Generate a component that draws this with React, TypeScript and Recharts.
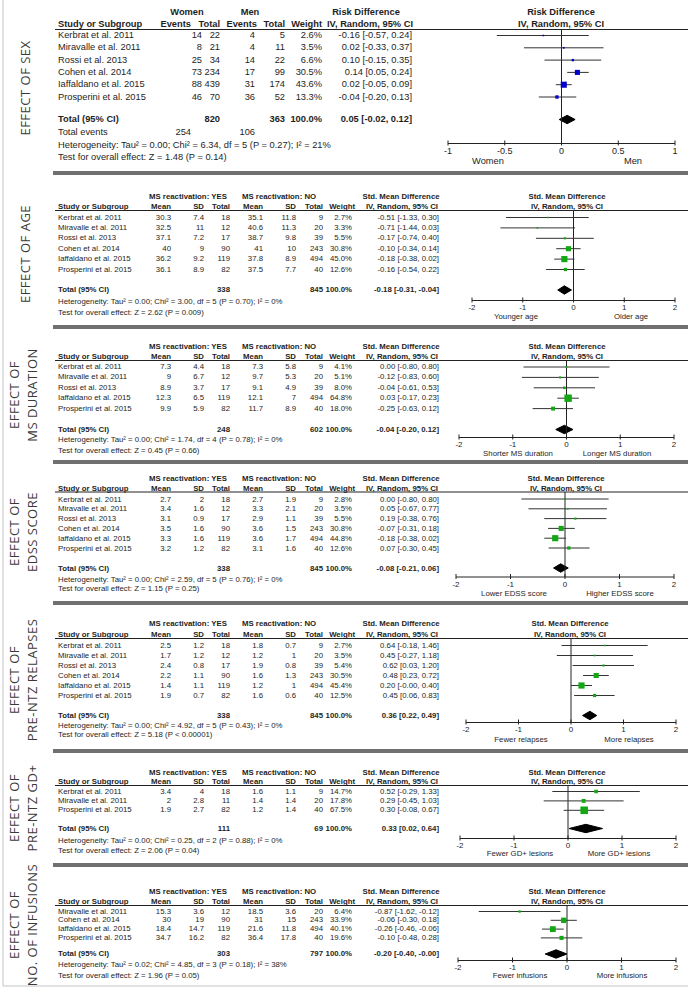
import { Area, ComposedChart, ErrorBar, ReferenceLine, Scatter, XAxis, YAxis } from "recharts"

// ---- data ----

const sexRows = [
  ["Kerbrat et al. 2011", "14", "22", "4", "5", "2.6%", "-0.16 [-0.57, 0.24]"],
  ["Miravalle et al. 2011", "8", "21", "4", "11", "3.5%", "0.02 [-0.33, 0.37]"],
  ["Rossi et al. 2013", "25", "34", "14", "22", "6.6%", "0.10 [-0.15, 0.35]"],
  ["Cohen et al. 2014", "73", "234", "17", "99", "30.5%", "0.14 [0.05, 0.24]"],
  ["Iaffaldano et al. 2015", "88", "439", "31", "174", "43.6%", "0.02 [-0.05, 0.09]"],
  ["Prosperini et al. 2015", "46", "70", "36", "52", "13.3%", "-0.04 [-0.20, 0.13]"],
]
const sexTotal = ["820", "363", "100.0%", "0.05 [-0.02, 0.12]"]
const sexEvents = ["254", "106"]
const sexStats = [
  "Heterogeneity: Tau² = 0.00; Chi² = 6.34, df = 5 (P = 0.27); I² = 21%",
  "Test for overall effect: Z = 1.48 (P = 0.14)",
]
const sexAxis = ["Women", "Men"]
const sexTicks = [-1, -0.5, 0, 0.5, 1]

const ageRows = [
  ["Kerbrat et al. 2011", "30.3", "7.4", "18", "35.1", "11.8", "9", "2.7%", "-0.51 [-1.33, 0.30]"],
  ["Miravalle et al. 2011", "32.5", "11", "12", "40.6", "11.3", "20", "3.3%", "-0.71 [-1.44, 0.03]"],
  ["Rossi et al. 2013", "37.1", "7.2", "17", "38.7", "9.8", "39", "5.5%", "-0.17 [-0.74, 0.40]"],
  ["Cohen et al. 2014", "40", "9", "90", "41", "10", "243", "30.8%", "-0.10 [-0.34, 0.14]"],
  ["Iaffaldano et al. 2015", "36.2", "9.2", "119", "37.8", "8.9", "494", "45.0%", "-0.18 [-0.38, 0.02]"],
  ["Prosperini et al. 2015", "36.1", "8.9", "82", "37.5", "7.7", "40", "12.6%", "-0.16 [-0.54, 0.22]"],
]
const ageTotal = ["338", "845", "100.0%", "-0.18 [-0.31, -0.04]"]
const ageStats = [
  "Heterogeneity: Tau² = 0.00; Chi² = 3.00, df = 5 (P = 0.70); I² = 0%",
  "Test for overall effect: Z = 2.62 (P = 0.009)",
]
const ageAxis = ["Younger age", "Older age"]

const durationRows = [
  ["Kerbrat et al. 2011", "7.3", "4.4", "18", "7.3", "5.8", "9", "4.1%", "0.00 [-0.80, 0.80]"],
  ["Miravalle et al. 2011", "9", "6.7", "12", "9.7", "5.3", "20", "5.1%", "-0.12 [-0.83, 0.60]"],
  ["Rossi et al. 2013", "8.9", "3.7", "17", "9.1", "4.9", "39", "8.0%", "-0.04 [-0.61, 0.53]"],
  ["Iaffaldano et al. 2015", "12.3", "6.5", "119", "12.1", "7", "494", "64.8%", "0.03 [-0.17, 0.23]"],
  ["Prosperini et al. 2015", "9.9", "5.9", "82", "11.7", "8.9", "40", "18.0%", "-0.25 [-0.63, 0.12]"],
]
const durationTotal = ["248", "602", "100.0%", "-0.04 [-0.20, 0.12]"]
const durationStats = [
  "Heterogeneity: Tau² = 0.00; Chi² = 1.74, df = 4 (P = 0.78); I² = 0%",
  "Test for overall effect: Z = 0.45 (P = 0.66)",
]
const durationAxis = ["Shorter MS duration", "Longer MS duration"]

const edssRows = [
  ["Kerbrat et al. 2011", "2.7", "2", "18", "2.7", "1.9", "9", "2.8%", "0.00 [-0.80, 0.80]"],
  ["Miravalle et al. 2011", "3.4", "1.6", "12", "3.3", "2.1", "20", "3.5%", "0.05 [-0.67, 0.77]"],
  ["Rossi et al. 2013", "3.1", "0.9", "17", "2.9", "1.1", "39", "5.5%", "0.19 [-0.38, 0.76]"],
  ["Cohen et al. 2014", "3.5", "1.6", "90", "3.6", "1.5", "243", "30.8%", "-0.07 [-0.31, 0.18]"],
  ["Iaffaldano et al. 2015", "3.3", "1.6", "119", "3.6", "1.7", "494", "44.8%", "-0.18 [-0.38, 0.02]"],
  ["Prosperini et al. 2015", "3.2", "1.2", "82", "3.1", "1.6", "40", "12.6%", "0.07 [-0.30, 0.45]"],
]
const edssTotal = ["338", "845", "100.0%", "-0.08 [-0.21, 0.06]"]
const edssStats = [
  "Heterogeneity: Tau² = 0.00; Chi² = 2.59, df = 5 (P = 0.76); I² = 0%",
  "Test for overall effect: Z = 1.15 (P = 0.25)",
]
const edssAxis = ["Lower EDSS score", "Higher EDSS score"]

const relapseRows = [
  ["Kerbrat et al. 2011", "2.5", "1.2", "18", "1.8", "0.7", "9", "2.7%", "0.64 [-0.18, 1.46]"],
  ["Miravalle et al. 2011", "1.7", "1.2", "12", "1.2", "1", "20", "3.5%", "0.45 [-0.27, 1.18]"],
  ["Rossi et al. 2013", "2.4", "0.8", "17", "1.9", "0.8", "39", "5.4%", "0.62 [0.03, 1.20]"],
  ["Cohen et al. 2014", "2.2", "1.1", "90", "1.6", "1.3", "243", "30.5%", "0.48 [0.23, 0.72]"],
  ["Iaffaldano et al. 2015", "1.4", "1.1", "119", "1.2", "1", "494", "45.4%", "0.20 [-0.00, 0.40]"],
  ["Prosperini et al. 2015", "1.9", "0.7", "82", "1.6", "0.6", "40", "12.5%", "0.45 [0.06, 0.83]"],
]
const relapseTotal = ["338", "845", "100.0%", "0.36 [0.22, 0.49]"]
const relapseStats = [
  "Heterogeneity: Tau² = 0.00; Chi² = 4.92, df = 5 (P = 0.43); I² = 0%",
  "Test for overall effect: Z = 5.18 (P < 0.00001)",
]
const relapseAxis = ["Fewer relapses", "More relapses"]

const gdRows = [
  ["Kerbrat et al. 2011", "3.4", "4", "18", "1.6", "1.1", "9", "14.7%", "0.52 [-0.29, 1.33]"],
  ["Miravalle et al. 2011", "2", "2.8", "11", "1.4", "1.4", "20", "17.8%", "0.29 [-0.45, 1.03]"],
  ["Prosperini et al. 2015", "1.9", "2.7", "82", "1.2", "1.4", "40", "67.5%", "0.30 [-0.08, 0.67]"],
]
const gdTotal = ["111", "69", "100.0%", "0.33 [0.02, 0.64]"]
const gdStats = [
  "Heterogeneity: Tau² = 0.00; Chi² = 0.25, df = 2 (P = 0.88); I² = 0%",
  "Test for overall effect: Z = 2.06 (P = 0.04)",
]
const gdAxis = ["Fewer GD+ lesions", "More GD+ lesions"]

const infusionRows = [
  ["Miravalle et al. 2011", "15.3", "3.6", "12", "18.5", "3.6", "20", "6.4%", "-0.87 [-1.62, -0.12]"],
  ["Cohen et al. 2014", "30", "19", "90", "31", "15", "243", "33.9%", "-0.06 [-0.30, 0.18]"],
  ["Iaffaldano et al. 2015", "18.4", "14.7", "119", "21.6", "11.8", "494", "40.1%", "-0.26 [-0.46, -0.06]"],
  ["Prosperini et al. 2015", "34.7", "16.2", "82", "36.4", "17.8", "40", "19.6%", "-0.10 [-0.48, 0.28]"],
]
const infusionTotal = ["303", "797", "100.0%", "-0.20 [-0.40, -0.00]"]
const infusionStats = [
  "Heterogeneity: Tau² = 0.02; Chi² = 4.85, df = 3 (P = 0.18); I² = 38%",
  "Test for overall effect: Z = 1.96 (P = 0.05)",
]
const infusionAxis = ["Fewer infusions", "More infusions"]

const smdTicks = [-2, -1, 0, 1, 2]

// ---- layout ----

const FONT = "'Liberation Sans', Arial, sans-serif"
const INK = "#1e1e1e"

const smdPanels = [
  { title: ["EFFECT OF AGE"], rows: ageRows, total: ageTotal, stats: ageStats, axis: ageAxis,
    lay: { h1: 196, h2: 206, top: 210.5, row0: 217, sp: 10.4, totalY: 289.5, het: 301, test: 312, axisY: 300, subY: 316, sepY: 327, pxMin: 471.5, pxMax: 674.5, plotC: 567, subX: [516, 631], titleY: 254 } },
  { title: ["EFFECT OF", "MS DURATION"], rows: durationRows, total: durationTotal, stats: durationStats, axis: durationAxis,
    lay: { h1: 346.5, h2: 356, top: 360.5, row0: 366.5, sp: 10.4, totalY: 429, het: 439.5, test: 450, axisY: 437, subY: 453, sepY: 462, pxMin: 459, pxMax: 674, plotC: 567, subX: [518, 617], titleY: 395 } },
  { title: ["EFFECT OF", "EDSS SCORE"], rows: edssRows, total: edssTotal, stats: edssStats, axis: edssAxis,
    lay: { h1: 478, h2: 488, top: 492, row0: 499, sp: 9.8, totalY: 568, het: 579, test: 588, axisY: 577, subY: 593, sepY: 603, pxMin: 456, pxMax: 674, plotC: 566, subX: [514, 620], titleY: 532 } },
  { title: ["EFFECT OF", "PRE-NTZ RELAPSES"], rows: relapseRows, total: relapseTotal, stats: relapseStats, axis: relapseAxis,
    lay: { h1: 623, h2: 634, top: 638.5, row0: 645, sp: 10, totalY: 715, het: 725, test: 734, axisY: 722, subY: 739, sepY: 751, pxMin: 466, pxMax: 676, plotC: 570, subX: [521, 629], titleY: 680 } },
  { title: ["EFFECT OF", "PRE-NTZ GD+"], rows: gdRows, total: gdTotal, stats: gdStats, axis: gdAxis,
    lay: { h1: 772, h2: 781.5, top: 785.5, row0: 791, sp: 9.4, totalY: 828, het: 840, test: 850, axisY: 838, subY: 853, sepY: 865, pxMin: 460, pxMax: 676, plotC: 567, subX: [520, 619], titleY: 808 } },
  { title: ["EFFECT OF", "NO. OF INFUSIONS"], rows: infusionRows, total: infusionTotal, stats: infusionStats, axis: infusionAxis,
    lay: { h1: 891.5, h2: 901.5, top: 905.5, row0: 911, sp: 8.8, totalY: 953.5, het: 964.5, test: 975, axisY: 960, subY: 975, sepY: 0, pxMin: 458, pxMax: 676, plotC: 567, subX: [520, 622], titleY: 925 } },
]

const sexLay = { h1: 12, h2: 24, top: 29.5, row0: 35, sp: 12.3, totalY: 119, eventsY: 132, het: 145, test: 157, axisY: 143, subY: 161, sepY: 173, pxMin: 447.5, pxMax: 674.5, plotC: 561, subX: [488, 633], titleY: 88 }

function parseCI(s: string) {
  const m = s.match(/(-?[\d.]+) \[(-?[\d.]+), (-?[\d.]+)\]/)!
  return [parseFloat(m[1]), parseFloat(m[2]), parseFloat(m[3])]
}

function T({ x, y, a = "start", b = false, fs, children }: any) {
  return (
    <text x={x} y={y} textAnchor={a} dominantBaseline="central" fontSize={fs} fontWeight={b ? 700 : 400} fill={INK} fontFamily={FONT}>
      {children}
    </text>
  )
}

function AxisTick(props: any) {
  const { x, y, payload, fs } = props
  return (
    <g>
      <line x1={x} x2={x} y1={y - 3} y2={y + 2} stroke="#222" />
      <text x={x} y={y + fs * 0.5 + 3} textAnchor="middle" dominantBaseline="central" fontSize={fs} fill={INK} fontFamily={FONT}>
        {payload.value}
      </text>
    </g>
  )
}

function Forest({ rows, total, lay, color, ticks, lim, fs }: any) {
  const { pxMin, pxMax, top, axisY, row0, sp, totalY } = lay
  const mx = 12
  const bottom = 16
  const w = pxMax - pxMin + 2 * mx
  const h = axisY - top + bottom
  const pts = rows.map((r: string[], i: number) => {
    const [e, lo, hi] = parseCI(r[r.length - 1])
    return { x: e, y: i, w: parseFloat(r[r.length - 2]), err: [e - lo, hi - e] }
  })
  const [te, tlo, thi] = parseCI(total[total.length - 1])
  const rt = (totalY - row0) / sp
  const hh = 4.2 / sp
  const diamond = [
    { x: tlo, band: [rt, rt] },
    { x: te, band: [rt - hh, rt + hh] },
    { x: thi, band: [rt, rt] },
  ]
  const square = (p: any) => {
    const s = Math.max(1.6, 0.92 * Math.sqrt(p.payload.w))
    return <rect x={p.cx - s / 2} y={p.cy - s / 2} width={s} height={s} fill={color} />
  }
  return (
    <div style={{ position: "absolute", left: pxMin - mx, top, width: w, height: h }}>
      <ComposedChart width={w} height={h} margin={{ top: 0, right: mx, left: mx, bottom: 0 }}>
        <XAxis
          type="number"
          dataKey="x"
          domain={[-lim, lim]}
          ticks={ticks}
          interval={0}
          allowDataOverflow
          height={bottom}
          tickLine={false}
          tickSize={0}
          tickMargin={0}
          axisLine={{ stroke: "#222" }}
          tick={(p: any) => <AxisTick {...p} fs={fs} />}
        />
        <YAxis type="number" dataKey="y" domain={[(top - row0) / sp, (axisY - row0) / sp]} reversed hide width={0} allowDataOverflow />
        <ReferenceLine x={0} stroke="#222" />
        <Area data={diamond} dataKey="band" type="linear" stroke="#000" fill="#000" fillOpacity={1} isAnimationActive={false} />
        <Scatter data={pts} shape={square} isAnimationActive={false}>
          <ErrorBar dataKey="err" direction="x" width={0} stroke="#333" strokeWidth={1} isAnimationActive={false} />
        </Scatter>
      </ComposedChart>
    </div>
  )
}

function Title({ lines, y }: any) {
  const xs = lines.length === 1 ? [25] : [14, 32]
  return (
    <>
      {lines.map((t: string, i: number) => (
        <text key={i} transform={`translate(${xs[i]},${y}) rotate(-90)`} textAnchor="middle" dominantBaseline="central"
          fontSize={13} fill="#3a3a3a" fontFamily="'Open Sans', sans-serif" letterSpacing={0.5}>
          {t}
        </text>
      ))}
    </>
  )
}

function SexText() {
  const L = sexLay
  const fs = 9.3
  const cols = [202, 220, 255, 285, 322, 412]
  return (
    <g>
      <Title lines={["EFFECT OF SEX"]} y={L.titleY} />
      <T x={187} y={L.h1} a="middle" b fs={fs}>Women</T>
      <T x={250} y={L.h1} a="middle" b fs={fs}>Men</T>
      <T x={366} y={L.h1} a="middle" b fs={fs}>Risk Difference</T>
      <T x={L.plotC} y={L.h1} a="middle" b fs={fs}>Risk Difference</T>
      <T x={58} y={L.h2} b fs={fs}>Study or Subgroup</T>
      <T x={191} y={L.h2} a="end" b fs={fs}>Events</T>
      <T x={220} y={L.h2} a="end" b fs={fs}>Total</T>
      <T x={257} y={L.h2} a="end" b fs={fs}>Events</T>
      <T x={285} y={L.h2} a="end" b fs={fs}>Total</T>
      <T x={322} y={L.h2} a="end" b fs={fs}>Weight</T>
      <T x={370} y={L.h2} a="middle" b fs={fs}>IV, Random, 95% CI</T>
      <T x={L.plotC} y={L.h2} a="middle" b fs={fs}>IV, Random, 95% CI</T>
      <line x1={55} x2={688} y1={L.top} y2={L.top} stroke="#222" />
      {sexRows.map((r, i) => (
        <g key={i}>
          <T x={58} y={L.row0 + i * L.sp} fs={fs}>{r[0]}</T>
          {r.slice(1).map((v, j) => (
            <T key={j} x={cols[j]} y={L.row0 + i * L.sp} a="end" fs={fs}>{v}</T>
          ))}
        </g>
      ))}
      <T x={58} y={L.totalY} b fs={fs}>Total (95% CI)</T>
      <T x={220} y={L.totalY} a="end" b fs={fs}>{sexTotal[0]}</T>
      <T x={285} y={L.totalY} a="end" b fs={fs}>{sexTotal[1]}</T>
      <T x={322} y={L.totalY} a="end" b fs={fs}>{sexTotal[2]}</T>
      <T x={412} y={L.totalY} a="end" b fs={fs}>{sexTotal[3]}</T>
      <T x={58} y={L.eventsY} fs={fs}>Total events</T>
      <T x={191} y={L.eventsY} a="end" fs={fs}>{sexEvents[0]}</T>
      <T x={255} y={L.eventsY} a="end" fs={fs}>{sexEvents[1]}</T>
      <T x={58} y={L.het} fs={fs}>{sexStats[0]}</T>
      <T x={58} y={L.test} fs={fs}>{sexStats[1]}</T>
      <T x={L.subX[0]} y={L.subY} a="middle" fs={fs}>{sexAxis[0]}</T>
      <T x={L.subX[1]} y={L.subY} a="middle" fs={fs}>{sexAxis[1]}</T>
      <rect x={53} y={L.sepY - 2} width={635} height={4} fill="#707070" />
    </g>
  )
}

function SmdText({ p }: any) {
  const L = p.lay
  const fs = 7.8
  const effC = 401
  const cols = [171, 204, 230, 263, 296, 323, 352, 439]
  return (
    <g>
      <Title lines={p.title} y={L.titleY} />
      <T x={149} y={L.h1} b fs={fs}>MS reactivation: YES</T>
      <T x={242} y={L.h1} b fs={fs}>MS reactivation: NO</T>
      <T x={effC} y={L.h1} a="middle" b fs={fs}>Std. Mean Difference</T>
      <T x={L.plotC} y={L.h1} a="middle" b fs={fs}>Std. Mean Difference</T>
      <T x={58} y={L.h2} b fs={fs}>Study or Subgroup</T>
      {["Mean", "SD", "Total", "Mean", "SD", "Total", "Weight"].map((h, j) => (
        <T key={j} x={cols[j] + (j === 6 ? 3 : 0)} y={L.h2} a="end" b fs={fs}>{h}</T>
      ))}
      <T x={effC + 1} y={L.h2} a="middle" b fs={fs}>IV, Random, 95% CI</T>
      <T x={L.plotC} y={L.h2} a="middle" b fs={fs}>IV, Random, 95% CI</T>
      <line x1={55} x2={688} y1={L.top} y2={L.top} stroke="#222" />
      {p.rows.map((r: string[], i: number) => (
        <g key={i}>
          <T x={58} y={L.row0 + i * L.sp} fs={fs}>{r[0]}</T>
          {r.slice(1).map((v, j) => (
            <T key={j} x={cols[j]} y={L.row0 + i * L.sp} a="end" fs={fs}>{v}</T>
          ))}
        </g>
      ))}
      <T x={58} y={L.totalY} b fs={fs}>Total (95% CI)</T>
      <T x={cols[2]} y={L.totalY} a="end" b fs={fs}>{p.total[0]}</T>
      <T x={cols[5]} y={L.totalY} a="end" b fs={fs}>{p.total[1]}</T>
      <T x={cols[6]} y={L.totalY} a="end" b fs={fs}>{p.total[2]}</T>
      <T x={cols[7]} y={L.totalY} a="end" b fs={fs}>{p.total[3]}</T>
      <T x={58} y={L.het} fs={fs}>{p.stats[0]}</T>
      <T x={58} y={L.test} fs={fs}>{p.stats[1]}</T>
      <T x={L.subX[0]} y={L.subY} a="middle" fs={fs}>{p.axis[0]}</T>
      <T x={L.subX[1]} y={L.subY} a="middle" fs={fs}>{p.axis[1]}</T>
      {L.sepY > 0 && <rect x={53} y={L.sepY - 2} width={635} height={4} fill="#707070" />}
    </g>
  )
}

export default function App() {
  return (
    <div style={{ position: "absolute", left: 0, top: 0, width: 688, height: 991, background: "#fff", overflow: "hidden" }}>
      <svg width={688} height={991} style={{ position: "absolute", left: 0, top: 0 }}>
        <line x1={3} x2={3} y1={0} y2={986} stroke="#c4c4c4" />
        <line x1={3} x2={688} y1={986} y2={986} stroke="#c4c4c4" />
        <SexText />
        {smdPanels.map((p, i) => (
          <SmdText key={i} p={p} />
        ))}
      </svg>
      <Forest rows={sexRows} total={sexTotal} lay={sexLay} color="#0000c8" ticks={sexTicks} lim={1} fs={9} />
      {smdPanels.map((p, i) => (
        <Forest key={i} rows={p.rows} total={p.total} lay={p.lay} color="#13a813" ticks={smdTicks} lim={2} fs={8} />
      ))}
    </div>
  )
}
